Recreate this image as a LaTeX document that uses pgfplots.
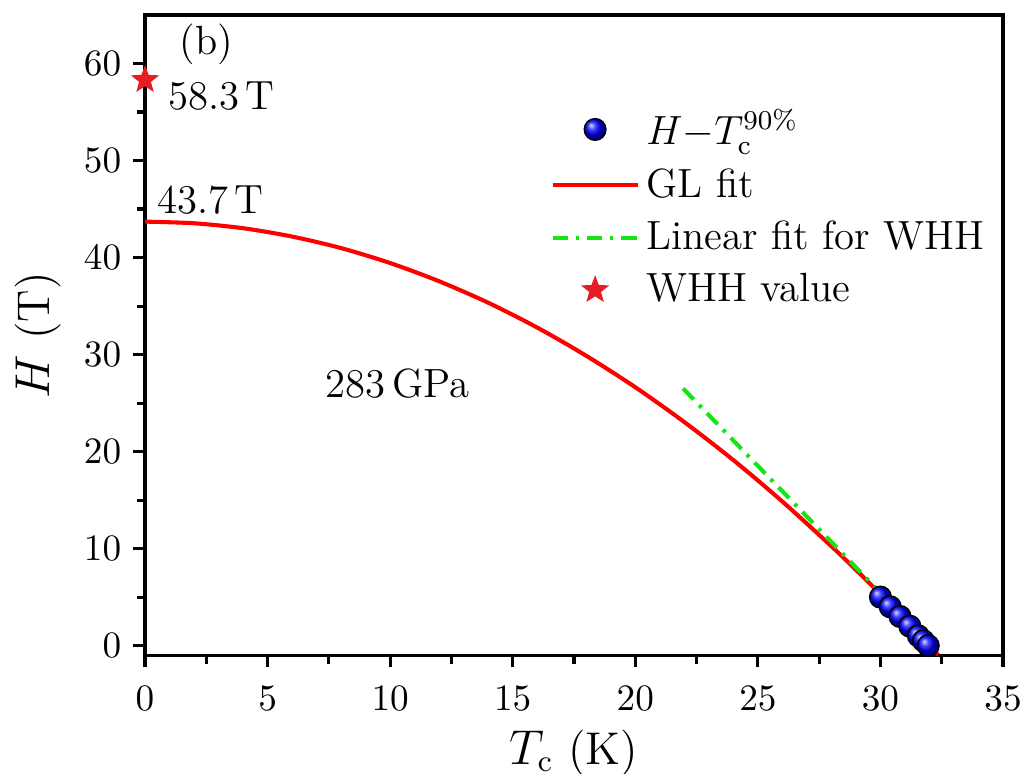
\documentclass[border=0pt]{standalone}
\usepackage{pgfplots}
\pgfplotsset{compat=1.18}
\usetikzlibrary{plotmarks}

% filled five-point star
\pgfdeclareplotmark{fstar}{%
  \pgfpathmoveto{\pgfpointpolar{90}{\pgfplotmarksize}}%
  \pgfpathlineto{\pgfpointpolar{126}{0.42\pgfplotmarksize}}%
  \pgfpathlineto{\pgfpointpolar{162}{\pgfplotmarksize}}%
  \pgfpathlineto{\pgfpointpolar{198}{0.42\pgfplotmarksize}}%
  \pgfpathlineto{\pgfpointpolar{234}{\pgfplotmarksize}}%
  \pgfpathlineto{\pgfpointpolar{270}{0.42\pgfplotmarksize}}%
  \pgfpathlineto{\pgfpointpolar{306}{\pgfplotmarksize}}%
  \pgfpathlineto{\pgfpointpolar{342}{0.42\pgfplotmarksize}}%
  \pgfpathlineto{\pgfpointpolar{18}{\pgfplotmarksize}}%
  \pgfpathlineto{\pgfpointpolar{54}{0.42\pgfplotmarksize}}%
  \pgfpathclose
  \pgfusepathqfillstroke}

\definecolor{glred}{RGB}{255,0,0}
\definecolor{whhgreen}{RGB}{20,230,20}
\definecolor{starred}{RGB}{232,28,36}

\pgfplotsset{
  lineleg/.style={legend image code/.code={\draw[##1] (0pt,0pt) -- (25pt,0pt);}},
  markleg/.style={legend image code/.code={\draw[##1] plot coordinates {(12.5pt,0pt)};}},
}

\begin{document}
\begin{tikzpicture}
\begin{axis}[
    scale only axis,
    width=8.87cm, height=6.62cm,
    xmin=0, xmax=35, ymin=-1, ymax=65,
    xtick={0,5,...,35}, ytick={0,10,...,60},
    minor x tick num=1, minor y tick num=1,
    xtick pos=bottom, ytick pos=left,
    tick align=outside,
    major tick length=3.5pt, minor tick length=2.5pt,
    every tick/.style={line width=0.9pt, black},
    axis line style={line width=1pt},
    tick label style={font=\fontsize{11}{13}\selectfont},
    xticklabel style={yshift=-2pt},
    xlabel={$T_{\mathrm{c}}$ (K)},
    ylabel={$H$ (T)},
    label style={font=\fontsize{13.5}{16}\selectfont},
    xlabel style={yshift=1pt},
    clip=true,
    legend style={draw=none, fill=none, at={(0.46,0.875)}, anchor=north west,
                  row sep=1.5pt, font=\large},
    legend cell align=left,
]
% measured H - Tc(90%) points
\addplot[only marks, mark=ball, ball color=blue, mark size=3.2pt, markleg]
coordinates {
    (30.0,5.0) (30.4,4.0) (30.8,3.0) (31.2,2.0) (31.55,1.0) (31.75,0.5) (31.95,0.0)
};
\addlegendentry{$H{-}T_{\mathrm{c}}^{90\%}$}
% GL fit
\addplot[glred, line width=1.2pt, smooth, lineleg] coordinates {
    (0,43.70) (2,43.53) (4,43.02) (6,42.16) (8,40.97) (10,39.43) (12,37.55)
    (14,35.34) (16,32.78) (18,29.87) (20,26.63) (22,23.04) (24,19.12)
    (26,14.85) (28,10.24) (29,7.81) (30,5.29) (31,2.69) (32,0.00) (32.35,-0.96)
};
\addlegendentry{GL fit}
% linear fit for WHH
\addplot[whhgreen, line width=1.2pt, dash pattern=on 4.5pt off 2.3pt on 1pt off 2.3pt, lineleg]
coordinates {(21.95,26.5) (32.2,-0.3)};
\addlegendentry{Linear fit for WHH}
% WHH value
\addplot[only marks, mark=fstar, mark size=3.8pt, color=starred, fill=starred, markleg]
coordinates {(0,58.3)};
\addlegendentry{WHH value}

\node[font=\large] at (axis cs:2.5,62.0) {(b)};
\node[font=\large, anchor=west] at (axis cs:0.45,56.6) {58.3\,T};
\node[font=\large, anchor=west] at (axis cs:0.0,45.9) {43.7\,T};
\node[font=\large] at (axis cs:10.3,27.0) {283\,GPa};
\end{axis}
\pgfresetboundingbox
\path ([xshift=-42.66pt,yshift=-34.7pt]current axis.south west)
  rectangle ([xshift=5.59pt,yshift=4.41pt]current axis.north east);
\end{tikzpicture}
\end{document}
